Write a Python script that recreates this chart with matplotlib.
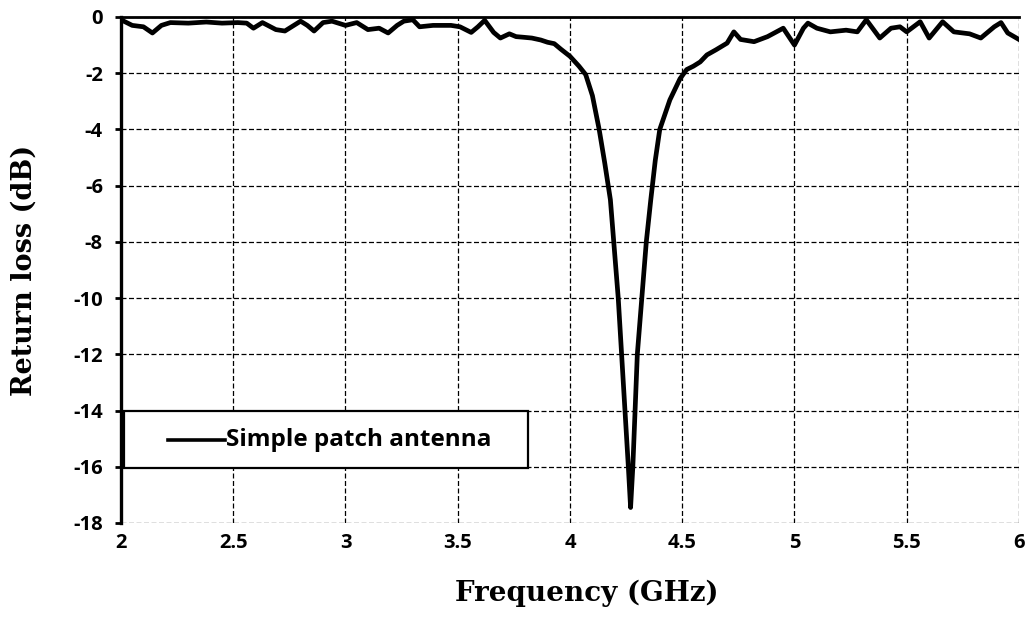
import matplotlib
matplotlib.use("Agg")
import matplotlib.pyplot as plt
from matplotlib.patches import Rectangle
from matplotlib.lines import Line2D

plt.rcParams['axes.unicode_minus'] = False

# Medicion del coeficiente de reflexion de la antena de parche
frecuencia = [
    2.00, 2.05, 2.10, 2.14, 2.18, 2.22, 2.30, 2.38, 2.45, 2.52,
    2.56, 2.59, 2.63, 2.69, 2.73, 2.80, 2.83, 2.86, 2.90, 2.94,
    3.00, 3.05, 3.10, 3.15, 3.19, 3.23, 3.26, 3.30, 3.33, 3.39,
    3.47, 3.51, 3.56, 3.59, 3.62, 3.66, 3.69, 3.73, 3.76, 3.79,
    3.83, 3.87, 3.90, 3.93, 3.96, 4.00, 4.04, 4.07, 4.10, 4.13,
    4.155, 4.18, 4.195, 4.215, 4.23, 4.245, 4.26, 4.27, 4.28, 4.29,
    4.30, 4.32, 4.34, 4.36, 4.38, 4.40, 4.445, 4.49, 4.52, 4.55,
    4.58, 4.61, 4.65, 4.70, 4.73, 4.76, 4.82, 4.88, 4.95, 5.00,
    5.04, 5.06, 5.10, 5.16, 5.23, 5.28, 5.32, 5.38, 5.43, 5.47,
    5.50, 5.56, 5.60, 5.66, 5.71, 5.78, 5.83, 5.89, 5.92, 5.95,
    6.00,
]
perdida_retorno = [
    -0.10, -0.30, -0.35, -0.57, -0.30, -0.20, -0.22, -0.18, -0.22, -0.20,
    -0.22, -0.40, -0.20, -0.45, -0.50, -0.15, -0.30, -0.50, -0.20, -0.15,
    -0.30, -0.20, -0.45, -0.40, -0.57, -0.30, -0.15, -0.10, -0.35, -0.30,
    -0.30, -0.35, -0.55, -0.35, -0.12, -0.55, -0.75, -0.60, -0.70, -0.72,
    -0.75, -0.82, -0.90, -0.95, -1.15, -1.40, -1.75, -2.05, -2.80, -4.00,
    -5.20, -6.50, -8.00, -10.00, -12.00, -14.00, -16.00, -17.45, -16.00, -14.00,
    -12.00, -10.00, -8.00, -6.50, -5.10, -4.00, -2.95, -2.20, -1.87, -1.75,
    -1.60, -1.35, -1.17, -0.93, -0.53, -0.80, -0.88, -0.70, -0.40, -1.00,
    -0.40, -0.22, -0.40, -0.53, -0.47, -0.53, -0.10, -0.75, -0.40, -0.35,
    -0.53, -0.17, -0.75, -0.17, -0.53, -0.60, -0.75, -0.35, -0.20, -0.57,
    -0.80,
]
ticks_x = [2, 2.5, 3, 3.5, 4, 4.5, 5, 5.5, 6]
etiquetas_x = ["2", "2.5", "3", "3.5", "4", "4.5", "5", "5.5", "6"]
ticks_y = list(range(0, -19, -2))
nombre_serie = "Simple patch antenna"

fig = plt.figure(figsize=(10.28, 6.28), dpi=100)
ax = fig.add_axes([0.1177, 0.1672, 0.8735, 0.8058])

ax.plot(frecuencia, perdida_retorno, color="black", lw=3.4,
        solid_joinstyle="round", zorder=3)

ax.set_xlim(2, 6)
ax.set_ylim(-18, 0)
ax.set_xticks(ticks_x)
ax.set_xticklabels(etiquetas_x)
ax.set_yticks(ticks_y)
ax.set_yticklabels([str(v) for v in ticks_y])

# rejilla punteada como en Excel
ax.grid(True, color="black", lw=0.9, linestyle=(0, (4, 2)))
ax.set_axisbelow(True)

ax.spines["left"].set_linewidth(2.4)
ax.spines["left"].set_zorder(8)
ax.spines["top"].set_linewidth(2.0)
ax.spines["right"].set_visible(False)
ax.spines["bottom"].set_visible(False)

for t in ax.get_xticklabels() + ax.get_yticklabels():
    t.set_fontfamily("Open Sans")
    t.set_fontweight("bold")
    t.set_fontsize(14.5)
ax.tick_params(axis="x", length=0, pad=7)
ax.tick_params(axis="y", length=4, width=2, pad=9, direction="out")

ax.set_xlabel("Frequency (GHz)", family="DejaVu Serif", weight="bold", size=20)
ax.set_ylabel("Return loss (dB)", family="DejaVu Serif", weight="bold", size=19.5)
ax.xaxis.set_label_coords(0.519, -0.138)
ax.xaxis.label.set_va("center")
ax.yaxis.set_label_coords(-0.108, 0.5)
ax.yaxis.label.set_va("center")

# cuadro de leyenda
ax.add_patch(Rectangle((0.003, 0.109), 0.450, 0.112, transform=ax.transAxes,
                       facecolor="white", edgecolor="black", lw=1.6, zorder=5))
ax.add_line(Line2D([0.052, 0.116], [0.165, 0.165], transform=ax.transAxes,
                   color="black", lw=2.6, zorder=6))
ax.text(0.117, 0.165, nombre_serie, transform=ax.transAxes, va="center",
        ha="left", family="Open Sans", weight="bold", size=17.5, zorder=6)

fig.savefig("out.png", dpi=100)
